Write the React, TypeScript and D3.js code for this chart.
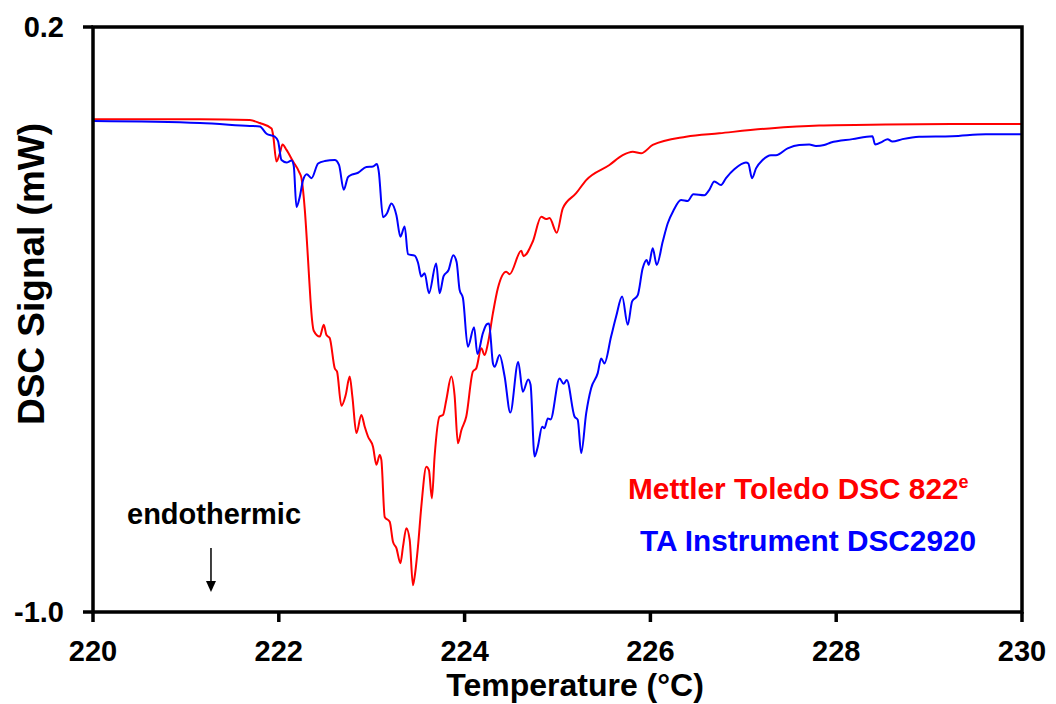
import React from "react";
import * as d3 from "d3";

// Mettler Toledo DSC 822e (red)
const redT = [220.0, 221.151, 221.688, 221.796, 221.922, 221.939, 221.975, 222.011, 222.04, 222.083, 222.154, 222.218, 222.244, 222.28, 222.315, 222.341, 222.358, 222.376, 222.441, 222.484, 222.513, 222.548, 222.602, 222.627, 222.674, 222.72, 222.763, 222.792, 222.835, 222.889, 222.925, 222.96, 223.014, 223.051, 223.086, 223.104, 223.14, 223.194, 223.229, 223.266, 223.309, 223.337, 223.373, 223.409, 223.444, 223.462, 223.498, 223.534, 223.588, 223.616, 223.648, 223.677, 223.731, 223.767, 223.803, 223.857, 223.892, 223.928, 223.965, 224.018, 224.089, 224.126, 224.18, 224.215, 224.251, 224.305, 224.358, 224.448, 224.484, 224.61, 224.634, 224.734, 224.825, 224.878, 224.914, 224.992, 225.057, 225.201, 225.309, 225.559, 225.702, 225.81, 225.9, 226.025, 226.384, 226.742, 227.28, 227.817, 228.534, 229.247, 230.0];
const redS = [0.011, 0.011, 0.009, 0.003, -0.008, -0.022, -0.076, -0.059, -0.041, -0.052, -0.076, -0.097, -0.11, -0.175, -0.278, -0.36, -0.401, -0.423, -0.435, -0.411, -0.432, -0.438, -0.5, -0.507, -0.577, -0.555, -0.517, -0.558, -0.633, -0.596, -0.62, -0.64, -0.661, -0.698, -0.678, -0.688, -0.805, -0.815, -0.856, -0.869, -0.9, -0.866, -0.828, -0.852, -0.945, -0.928, -0.866, -0.784, -0.702, -0.709, -0.767, -0.681, -0.599, -0.596, -0.565, -0.517, -0.555, -0.654, -0.627, -0.599, -0.507, -0.5, -0.459, -0.473, -0.449, -0.387, -0.336, -0.302, -0.307, -0.259, -0.27, -0.24, -0.189, -0.194, -0.192, -0.222, -0.172, -0.141, -0.114, -0.083, -0.063, -0.056, -0.059, -0.042, -0.025, -0.018, -0.008, -0.002, 0.0, 0.001, 0.001];

// TA Instrument DSC2920 (blue)
const blueT = [220.0, 221.151, 221.688, 221.796, 221.868, 221.957, 221.992, 222.029, 222.083, 222.137, 222.161, 222.19, 222.226, 222.261, 222.301, 222.352, 222.423, 222.495, 222.602, 222.648, 222.699, 222.745, 222.785, 222.853, 222.943, 223.014, 223.057, 223.075, 223.122, 223.165, 223.212, 223.266, 223.309, 223.355, 223.39, 223.462, 223.498, 223.534, 223.57, 223.616, 223.694, 223.731, 223.774, 223.826, 223.878, 223.914, 223.946, 223.982, 224.035, 224.102, 224.138, 224.197, 224.237, 224.263, 224.306, 224.323, 224.376, 224.43, 224.492, 224.577, 224.627, 224.685, 224.71, 224.753, 224.788, 224.835, 224.86, 224.896, 224.925, 225.022, 225.065, 225.1, 225.183, 225.218, 225.255, 225.309, 225.362, 225.433, 225.47, 225.505, 225.577, 225.631, 225.696, 225.756, 225.803, 225.864, 225.917, 225.96, 225.982, 226.025, 226.068, 226.133, 226.186, 226.247, 226.33, 226.401, 226.462, 226.581, 226.634, 226.688, 226.76, 226.814, 226.903, 227.029, 227.054, 227.094, 227.137, 227.208, 227.298, 227.352, 227.477, 227.602, 227.71, 227.782, 227.871, 227.943, 228.175, 228.39, 228.419, 228.498, 228.552, 228.605, 228.713, 228.892, 229.247, 229.61, 230.0];
const blueS = [0.007, 0.003, -0.003, -0.004, -0.019, -0.025, -0.034, -0.073, -0.078, -0.074, -0.085, -0.169, -0.148, -0.114, -0.102, -0.11, -0.08, -0.075, -0.073, -0.083, -0.134, -0.108, -0.103, -0.099, -0.087, -0.086, -0.081, -0.095, -0.19, -0.182, -0.162, -0.186, -0.23, -0.209, -0.266, -0.269, -0.283, -0.312, -0.305, -0.346, -0.285, -0.346, -0.311, -0.299, -0.268, -0.282, -0.339, -0.356, -0.456, -0.416, -0.471, -0.428, -0.41, -0.408, -0.491, -0.497, -0.473, -0.516, -0.591, -0.487, -0.548, -0.523, -0.534, -0.681, -0.661, -0.62, -0.623, -0.603, -0.605, -0.521, -0.532, -0.524, -0.599, -0.606, -0.674, -0.592, -0.541, -0.51, -0.48, -0.49, -0.435, -0.394, -0.353, -0.411, -0.363, -0.35, -0.295, -0.278, -0.288, -0.254, -0.288, -0.24, -0.203, -0.177, -0.155, -0.157, -0.143, -0.145, -0.134, -0.117, -0.124, -0.11, -0.092, -0.078, -0.08, -0.11, -0.09, -0.073, -0.063, -0.063, -0.049, -0.042, -0.041, -0.044, -0.042, -0.037, -0.03, -0.024, -0.041, -0.035, -0.03, -0.035, -0.03, -0.025, -0.024, -0.02, -0.02];

const xTicks = [220, 222, 224, 226, 228, 230];
const yTicks = [0.2, -1.0];

const W = 1056;
const H = 704;
const FONT = "'Liberation Sans', Arial, sans-serif";

export default function App() {
  const left = 93, right = 1022, top = 27, bottom = 612;
  const x = d3.scaleLinear().domain([220, 230]).range([left, right]);
  const y = d3.scaleLinear().domain([-1.0, 0.2]).range([bottom, top]);

  const line = d3
    .line<[number, number]>()
    .x((d) => x(d[0]))
    .y((d) => y(d[1]))
    .curve(d3.curveMonotoneX);

  const redPts: [number, number][] = redT.map((t, i) => [t, redS[i]]);
  const bluePts: [number, number][] = blueT.map((t, i) => [t, blueS[i]]);

  const arrowX = x(221.27);

  return (
    <svg
      width={W}
      height={H}
      style={{ position: "absolute", left: 0, top: 0, background: "#fff" }}
      fontFamily={FONT}
    >
      <rect x={0} y={0} width={W} height={H} fill="#fff" />
      <path d={line(redPts) ?? ""} fill="none" stroke="#ff0000" strokeWidth={2} />
      <path d={line(bluePts) ?? ""} fill="none" stroke="#0000ff" strokeWidth={2} />

      {/* frame */}
      <rect x={left} y={top} width={right - left} height={bottom - top} fill="none" stroke="#000" strokeWidth={3.5} />

      {/* x ticks */}
      {xTicks.map((t) => (
        <g key={"x" + t}>
          <line x1={x(t)} x2={x(t)} y1={bottom} y2={bottom + 10} stroke="#000" strokeWidth={3.5} />
          <text x={x(t)} y={661} textAnchor="middle" fontSize={29} fontWeight="bold" fill="#000">
            {t}
          </text>
        </g>
      ))}

      {/* y ticks */}
      {yTicks.map((t) => (
        <g key={"y" + t}>
          <line x1={left - 10} x2={left} y1={y(t)} y2={y(t)} stroke="#000" strokeWidth={3.5} />
          <text x={64} y={y(t) + 10} textAnchor="end" fontSize={29} fontWeight="bold" fill="#000">
            {t.toFixed(1)}
          </text>
        </g>
      ))}

      <text x={575} y={696} textAnchor="middle" fontSize={32} fontWeight="bold" fill="#000">
        Temperature (°C)
      </text>
      <text
        transform={`translate(44, 274) rotate(-90)`}
        textAnchor="middle"
        fontSize={37}
        fontWeight="bold"
        fill="#000"
      >
        DSC Signal (mW)
      </text>

      {/* legend */}
      <text x={628} y={499} fontSize={29.8} fontWeight="bold" fill="#ff0000">
        Mettler Toledo DSC 822<tspan fontSize={18} dy={-11}>e</tspan>
      </text>
      <text x={640} y={551} fontSize={29.8} fontWeight="bold" fill="#0000ff">
        TA Instrument DSC2920
      </text>

      {/* endothermic */}
      <text x={127} y={524} fontSize={29} fontWeight="bold" fill="#000">
        endothermic
      </text>
      <line x1={arrowX} x2={arrowX} y1={548} y2={584} stroke="#000" strokeWidth={1.5} />
      <path d={`M${arrowX - 5},${581} L${arrowX + 5},${581} L${arrowX},${592} Z`} fill="#000" />
    </svg>
  );
}
